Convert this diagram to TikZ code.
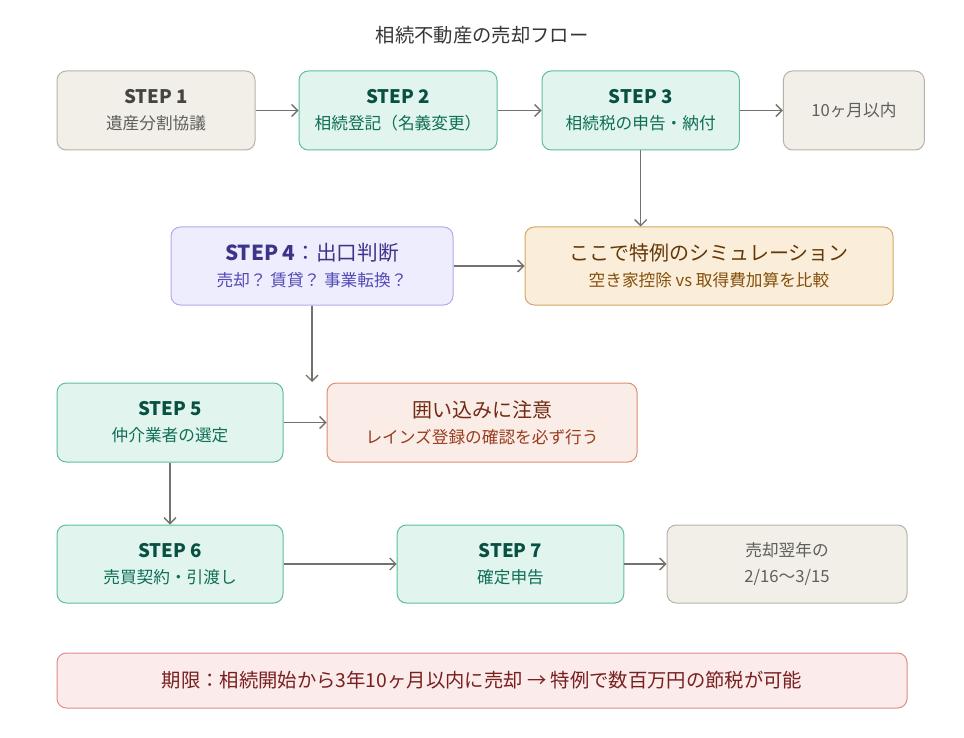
\documentclass[tikz,border=0pt]{standalone}
\usepackage{fontspec}
\setmainfont{Noto Sans CJK JP}
\usetikzlibrary{positioning,arrows.meta}
\definecolor{greyfill}{HTML}{F1EFE8}
\definecolor{greydraw}{HTML}{B4B2A9}
\definecolor{greytext}{HTML}{444441}
\definecolor{greysub}{HTML}{5F5E5A}
\definecolor{greenfill}{HTML}{E1F5EE}
\definecolor{greendraw}{HTML}{5DBE9A}
\definecolor{greentext}{HTML}{085041}
\definecolor{greensub}{HTML}{0F6E56}
\definecolor{purplefill}{HTML}{EEEDFE}
\definecolor{purpledraw}{HTML}{AFA9EC}
\definecolor{purpletext}{HTML}{3C3489}
\definecolor{purplesub}{HTML}{534AB7}
\definecolor{amberfill}{HTML}{FAEEDA}
\definecolor{amberdraw}{HTML}{D6A562}
\definecolor{ambertext}{HTML}{633806}
\definecolor{ambersub}{HTML}{854F0B}
\definecolor{coralfill}{HTML}{FAECE7}
\definecolor{coraldraw}{HTML}{DE8C70}
\definecolor{coraltext}{HTML}{712B13}
\definecolor{coralsub}{HTML}{993C1D}
\definecolor{redfill}{HTML}{FCEBEB}
\definecolor{reddraw}{HTML}{E08A8A}
\definecolor{redtext}{HTML}{791F1F}
\definecolor{arrowgrey}{HTML}{73726C}
\newcommand{\steptitle}[1]{{\bfseries\fontsize{14}{19.5}\selectfont #1}}
\newcommand{\bigline}[1]{{\fontsize{15}{19.5}\selectfont #1}}

\begin{document}
\begin{tikzpicture}[x=0.75pt,y=-0.75pt,line width=0.75pt,
  >={Straight Barb[length=4.5pt,width=9pt,line width=1pt]},
  box/.style={rounded corners=7pt,draw,align=center,inner sep=0pt,
    minimum height=59.25pt,font=\fontsize{12.5}{19.5}\selectfont},
  greybox/.style={box,fill=greyfill,draw=greydraw,text=greysub},
  greenbox/.style={box,fill=greenfill,draw=greendraw,text=greensub},
  purplebox/.style={box,fill=purplefill,draw=purpledraw,text=purplesub},
  amberbox/.style={box,fill=amberfill,draw=amberdraw,text=ambersub},
  coralbox/.style={box,fill=coralfill,draw=coraldraw,text=coralsub},
  flow/.style={->,arrowgrey,line width=1.1pt}]
\useasboundingbox (0,0) rectangle (964,738);

\node[font=\fontsize{14.5}{16}\selectfont,text=greytext!80!black] (title) at (482,35) {相続不動産の売却フロー};

% row 1
\node[greybox,minimum width=148.5pt] (s1) at (156,110.5) {\steptitle{\color{greytext}STEP 1}\\遺産分割協議};
\node[greenbox,minimum width=148.5pt,right=32.25pt of s1] (s2) {\steptitle{\color{greentext}STEP 2}\\相続登記（名義変更）};
\node[greenbox,minimum width=148pt,right=33pt of s2] (s3) {\steptitle{\color{greentext}STEP 3}\\相続税の申告・納付};
\node[greybox,minimum width=105.75pt,right=32.25pt of s3] (m10) {10ヶ月以内};

% row 2
\node[purplebox,minimum width=211.5pt,minimum height=58.5pt] (s4) at (312,266)
  {{\fontsize{15.5}{19.5}\selectfont\color{purpletext}\textbf{STEP 4}：出口判断}\\売却？ 賃貸？ 事業転換？};
\node[amberbox,minimum width=276pt,minimum height=58.5pt] (sim) at (709,266)
  {\bigline{\color{ambertext}ここで特例のシミュレーション}\\空き家控除 vs 取得費加算を比較};
\coordinate (s4end) at (312,382);

% row 3
\node[greenbox,minimum width=169.5pt] (s5) at (170,422.5) {\steptitle{\color{greentext}STEP 5}\\仲介業者の選定};
\node[coralbox,minimum width=232.5pt] (warn) at (482,422.5)
  {\bigline{\color{coraltext}囲い込みに注意}\\レインズ登録の確認を必ず行う};

% row 4
\node[greenbox,minimum width=169.5pt,minimum height=58.5pt] (s6) at (170,564) {\steptitle{\color{greentext}STEP 6}\\売買契約・引渡し};
\node[greenbox,minimum width=170pt,minimum height=58.5pt] (s7) at (510.5,564) {\steptitle{\color{greentext}STEP 7}\\確定申告};
\node[greybox,minimum width=180pt,minimum height=58.5pt] (next) at (787,564) {売却翌年の\\2/16〜3/15};

% deadline
\node[box,fill=redfill,draw=reddraw,text=redtext,minimum width=637.5pt,minimum height=41.25pt,
  font=\fontsize{14.5}{16}\selectfont] (limit) at (482,680.5)
  {期限：相続開始から3年10ヶ月以内に売却 → 特例で数百万円の節税が可能};

\draw[flow] (s1) -- (s2);
\draw[flow] (s2) -- (s3);
\draw[flow] (s3) -- (m10);
\draw[flow] (s3.south) -- (s3.south |- sim.north);
\draw[flow] (s4) -- (sim);
\draw[flow] (s4.south) -- (s4end);
\draw[flow] (s5) -- (warn);
\draw[flow] (s5) -- (s6);
\draw[flow] (s6) -- (s7);
\draw[flow] (s7) -- (next);
\end{tikzpicture}
\end{document}
